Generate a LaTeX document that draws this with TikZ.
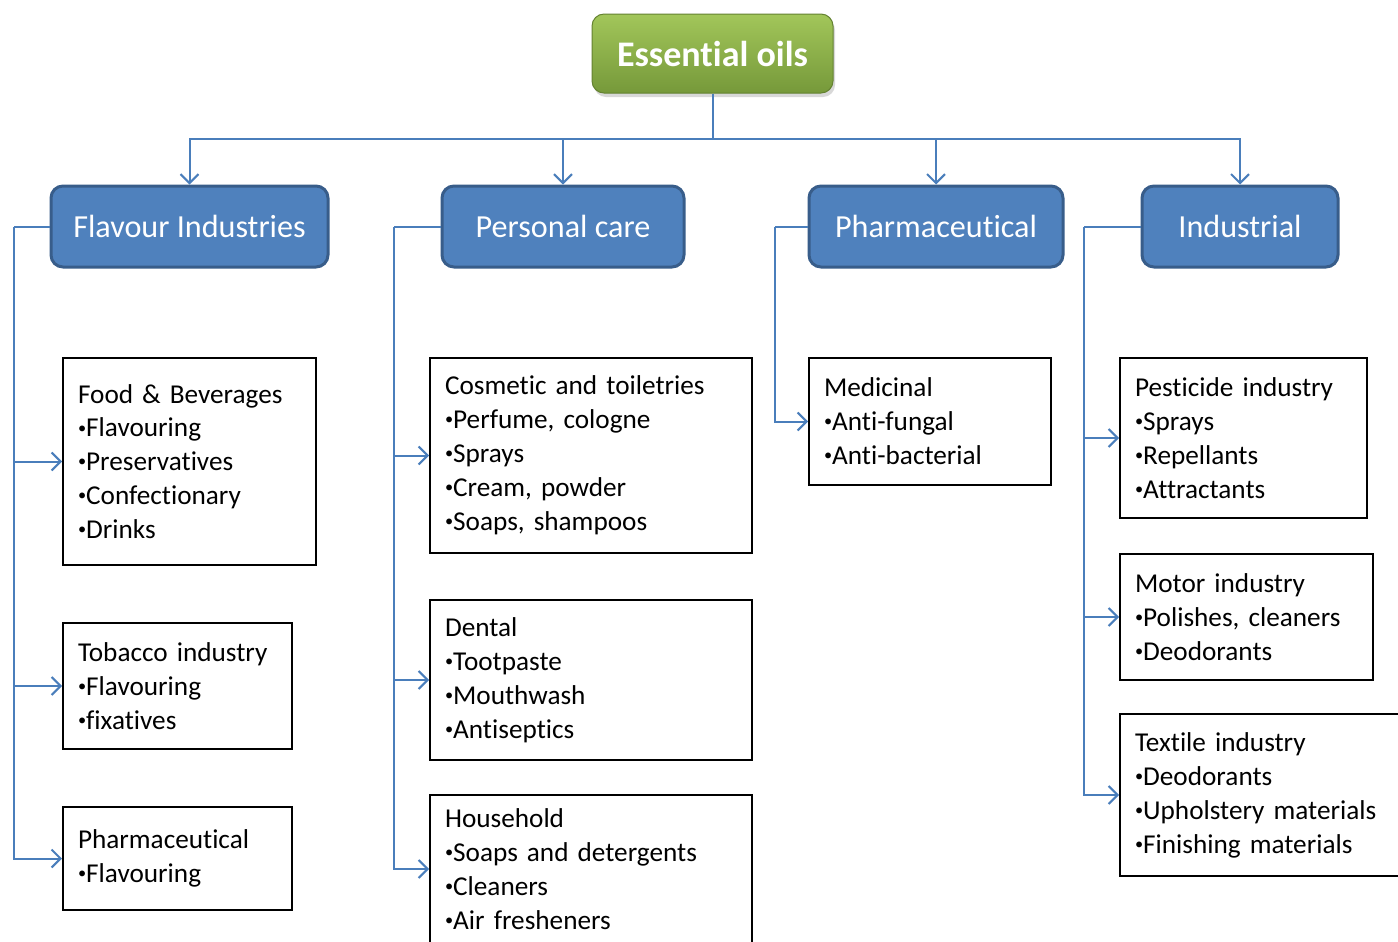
\documentclass[tikz,border=0pt]{standalone}
\usepackage{fontspec}
\setmainfont{Carlito}[Ligatures={NoCommon}]
\usetikzlibrary{arrows.meta,shadows}
\newdimen\pxu \pxu=0.02cm
\newcommand\bul{\raisebox{0.3ex}{\scalebox{0.6}{•}}}
\frenchspacing
\definecolor{linkblue}{HTML}{4A7EBB}
\definecolor{catfill}{HTML}{4F81BD}
\definecolor{catdraw}{HTML}{385D8A}
\definecolor{greentop}{HTML}{A2C65A}
\definecolor{greenbot}{HTML}{76993A}
\tikzset{
 root/.style={rounded corners=12\pxu, top color=greentop, bottom color=greenbot, draw=greenbot!85!black, line width=1\pxu, text=white, font=\fontsize{20.5}{24}\selectfont\bfseries, minimum width=241\pxu, minimum height=79\pxu, drop shadow={shadow xshift=2\pxu, shadow yshift=-4\pxu, opacity=0.3}},
 cat/.style={rounded corners=12\pxu, fill=catfill, draw=catdraw, line width=3\pxu, text=white, font=\fontsize{18.3}{22}\selectfont, minimum height=81\pxu},
 item/.style={draw=black, line width=2\pxu, align=left, inner xsep=15\pxu, inner ysep=0pt, font=\fontsize{15.5}{19.3}\selectfont\frenchspacing, anchor=center},
 conn/.style={draw=linkblue, line width=2\pxu},
 arr/.style={conn, -{Straight Barb[length=5.1pt, width=10.2pt]}},
}
\begin{document}
\begin{tikzpicture}[x=0.02cm, y=-0.02cm]
\useasboundingbox (0,0) rectangle (1398,941);
\clip (0,0) rectangle (1398,941);
\fill[white] (0,0) rectangle (1398,941);

\node[root] (eo) at (712.5,53.5) {Essential oils};

\node[cat, minimum width=277\pxu] (fi) at (189.5,226.5) {Flavour Industries};
\node[cat, minimum width=242\pxu] (pc) at (563,226.5) {Personal care};
\node[cat, minimum width=254\pxu] (ph) at (936,226.5) {Pharmaceutical};
\node[cat, minimum width=196\pxu] (in) at (1240,226.5) {Industrial};

% Flavour industries items
\node[item, text width=4.46cm, minimum height=207\pxu] (fb) at (189.5,461.5)
  {Food \& Beverages\\\bul Flavouring\\\bul Preservatives\\\bul Confectionary\\\bul Drinks};
\node[item, text width=3.98cm, minimum height=126\pxu] (tb) at (177.5,686)
  {Tobacco industry\\\bul Flavouring\\\bul fixatives};
\node[item, text width=3.98cm, minimum height=103\pxu] (pf) at (177.5,858.5)
  {Pharmaceutical\\\bul Flavouring};

% Personal care items
\node[item, text width=5.84cm, minimum height=195\pxu] (ct) at (591,455.5)
  {Cosmetic and toiletries\\\bul Perfume, cologne\\\bul Sprays\\\bul Cream, powder\\\bul Soaps, shampoos};
\node[item, text width=5.84cm, minimum height=160\pxu] (dt) at (591,680)
  {Dental\\\bul Tootpaste\\\bul Mouthwash\\\bul Antiseptics};
\node[item, text width=5.84cm, minimum height=148\pxu] (hh) at (591,869)
  {Household\\\bul Soaps and detergents\\\bul Cleaners\\\bul Air fresheners};

% Pharmaceutical items
\node[item, text width=4.24cm, minimum height=127\pxu] (md) at (930,421.5)
  {Medicinal\\\bul Anti-fungal\\\bul Anti-bacterial};

% Industrial items
\node[item, text width=4.34cm, minimum height=160\pxu] (ps) at (1243.5,438)
  {Pesticide industry\\\bul Sprays\\\bul Repellants\\\bul Attractants};
\node[item, text width=4.46cm, minimum height=126\pxu] (mt) at (1246.5,617)
  {Motor industry\\\bul Polishes, cleaners\\\bul Deodorants};
\node[item, text width=5.2cm, minimum height=162\pxu] (tx) at (1265,795)
  {Textile industry\\\bul Deodorants\\\bul Upholstery materials\\\bul Finishing materials};

% top connectors
\coordinate (bus) at (712.5,139);
\draw[conn] (eo.south) -- (bus);
\draw[arr] (bus) -| (fi.north);
\draw[arr] (bus) -| (pc.north);
\draw[arr] (bus) -| (ph.north);
\draw[arr] (bus) -| (in.north);

% branch connectors
\coordinate (fiL) at (14,226.5);
\draw[conn] (fi.west) -- (fiL);
\draw[arr] (fiL) |- (fb.west);
\draw[arr] (fiL) |- (tb.west);
\draw[arr] (fiL) |- (pf.west);

\coordinate (pcL) at (394,226.5);
\draw[conn] (pc.west) -- (pcL);
\draw[arr] (pcL) |- (ct.west);
\draw[arr] (pcL) |- (dt.west);
\draw[arr] (pcL) |- (hh.west);

\coordinate (phL) at (775,226.5);
\draw[conn] (ph.west) -- (phL);
\draw[arr] (phL) |- (md.west);

\coordinate (inL) at (1084,226.5);
\draw[conn] (in.west) -- (inL);
\draw[arr] (inL) |- (ps.west);
\draw[arr] (inL) |- (mt.west);
\draw[arr] (inL) |- (tx.west);
\end{tikzpicture}
\end{document}
